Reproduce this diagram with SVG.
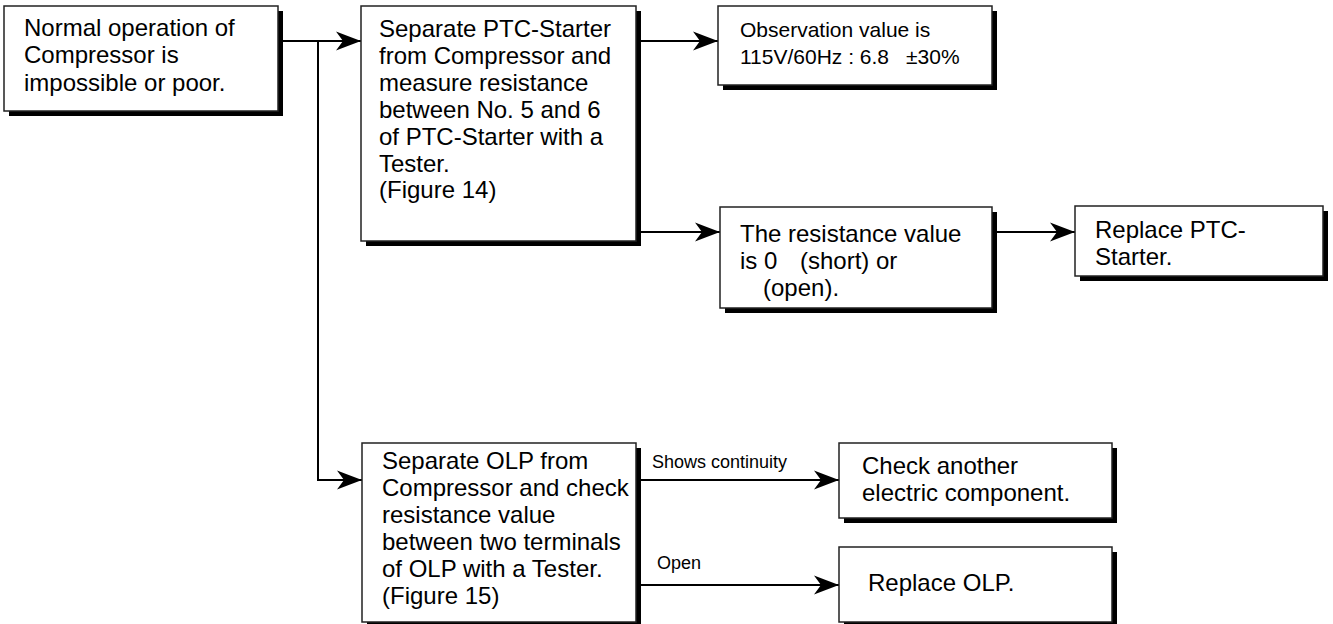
<svg xmlns="http://www.w3.org/2000/svg" width="1333" height="624" viewBox="0 0 1333 624">
<style>
.box{fill:#fff;stroke:#222;stroke-width:1.5}
.sh{fill:#000}
.t{font-family:"Liberation Sans",Arial,Helvetica,sans-serif;font-size:24px;fill:#000}
.s{font-size:21px}
.l{font-family:"Liberation Sans",Arial,Helvetica,sans-serif;font-size:18px;fill:#000}
.c{fill:none;stroke:#000;stroke-width:2}
</style>
<defs>
<marker id="ah" viewBox="0 0 25 20" refX="25" refY="10" markerWidth="25" markerHeight="20" markerUnits="userSpaceOnUse" orient="auto">
<path d="M0,0.5 Q13,5.5 25,10 Q13,14.5 0,19.5 L7,10 Z" fill="#000"/>
</marker>
</defs>
<rect width="1333" height="624" fill="#fff"/>
<g id="connectors">
<path class="c" d="M283,41 H361" marker-end="url(#ah)"/>
<path class="c" d="M318,41 V480 H362" marker-end="url(#ah)"/>
<path class="c" d="M640,41 H718" marker-end="url(#ah)"/>
<path class="c" d="M640,232 H720" marker-end="url(#ah)"/>
<path class="c" d="M997,232 H1075" marker-end="url(#ah)"/>
<path class="c" d="M640,480 H839" marker-end="url(#ah)"/>
<path class="c" d="M640,585 H839" marker-end="url(#ah)"/>
<text class="l" x="652" y="468">Shows continuity</text>
<text class="l" x="657" y="569">Open</text>
</g>
<g id="n1">
<rect class="sh" x="9" y="11" width="274" height="105"/>
<rect class="box" x="4" y="6" width="274" height="105"/>
<text class="t" x="24" y="36">Normal operation of</text>
<text class="t" x="24" y="63">Compressor is</text>
<text class="t" x="24" y="91">impossible or poor.</text>
</g>
<g id="n2">
<rect class="sh" x="366" y="11" width="275" height="235"/>
<rect class="box" x="361" y="6" width="275" height="235"/>
<text class="t" x="379" y="37">Separate PTC-Starter</text>
<text class="t" x="379" y="64">from Compressor and</text>
<text class="t" x="379" y="91">measure resistance</text>
<text class="t" x="379" y="118">between No. 5 and 6</text>
<text class="t" x="379" y="145">of PTC-Starter with a</text>
<text class="t" x="379" y="172">Tester.</text>
<text class="t" x="379" y="198">(Figure 14)</text>
</g>
<g id="n3">
<rect class="sh" x="723" y="11" width="274" height="79"/>
<rect class="box" x="718" y="6" width="274" height="79"/>
<text class="t s" x="740" y="37">Observation value is</text>
<text class="t s" x="740" y="64">115V/60Hz : 6.8</text>
<text class="t s" x="906" y="64">±30%</text>
</g>
<g id="n4">
<rect class="sh" x="725" y="212" width="272" height="101"/>
<rect class="box" x="720" y="207" width="272" height="101"/>
<text class="t" x="740" y="242">The resistance value</text>
<text class="t" x="740" y="269">is 0</text>
<text class="t" x="800" y="269">(short) or</text>
<text class="t" x="763" y="296">(open).</text>
</g>
<g id="n5">
<rect class="sh" x="1080" y="211" width="248" height="70"/>
<rect class="box" x="1075" y="206" width="248" height="70"/>
<text class="t" x="1095" y="238">Replace PTC-</text>
<text class="t" x="1095" y="265">Starter.</text>
</g>
<g id="n6">
<rect class="sh" x="367" y="448" width="274" height="180"/>
<rect class="box" x="362" y="443" width="274" height="179"/>
<text class="t" x="382" y="469">Separate OLP from</text>
<text class="t" x="382" y="496">Compressor and check</text>
<text class="t" x="382" y="523">resistance value</text>
<text class="t" x="382" y="550">between two terminals</text>
<text class="t" x="382" y="577">of OLP with a Tester.</text>
<text class="t" x="382" y="604">(Figure 15)</text>
</g>
<g id="n7">
<rect class="sh" x="844" y="448" width="273" height="75"/>
<rect class="box" x="839" y="443" width="273" height="75"/>
<text class="t" x="862" y="474">Check another</text>
<text class="t" x="862" y="501">electric component.</text>
</g>
<g id="n8">
<rect class="sh" x="844" y="552" width="273" height="76"/>
<rect class="box" x="839" y="547" width="273" height="75"/>
<text class="t" x="868" y="591">Replace OLP.</text>
</g>
</svg>
